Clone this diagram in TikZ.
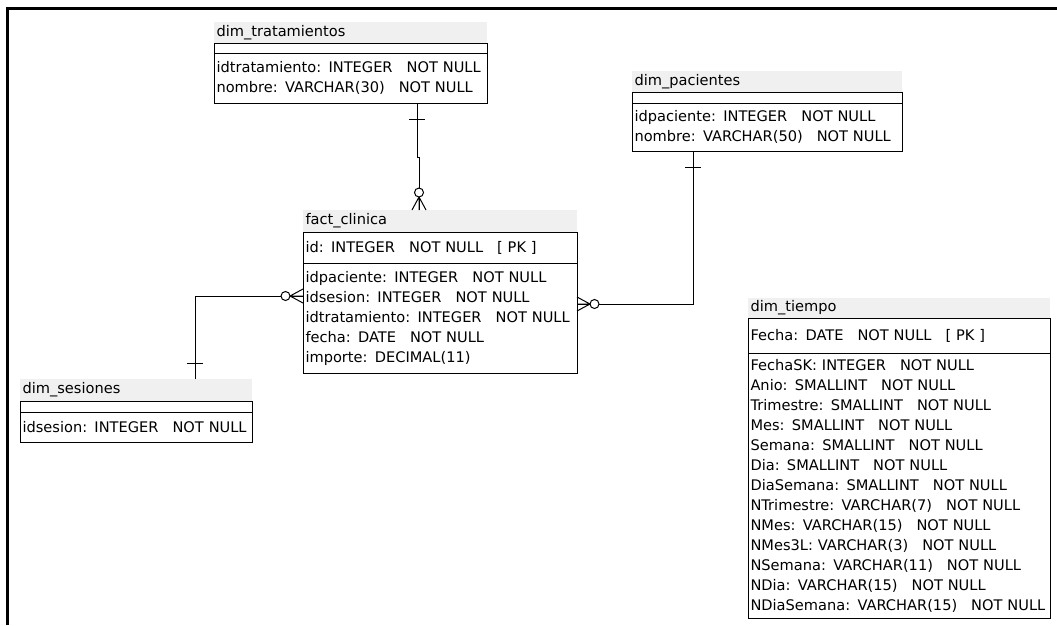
\documentclass[tikz,border=0pt]{standalone}
\usepackage{fontspec}
\setmainfont{DejaVu Sans}
\usetikzlibrary{positioning}
\newcommand\tblfont{\fontsize{14.6pt}{20pt}\selectfont}
\newcommand\gap{\hspace{14pt}}
\newcommand\fld[2]{\mbox{#1: #2\gap NOT NULL}}

\begin{document}
\begin{tikzpicture}[x=1pt,y=-1pt]
\tikzset{
  tbltitle/.style={anchor=north west,fill=black!6,outer sep=0pt,inner xsep=2.5pt,inner ysep=0pt,align=left,font=\tblfont},
  tblkey/.style={draw,line width=1pt,outer sep=0pt,inner xsep=2.5pt,inner ysep=0pt,align=left,font=\tblfont},
  tblbody/.style={draw,line width=1pt,outer sep=0pt,inner xsep=2.5pt,inner ysep=0pt,align=left,font=\tblfont},
  rel/.style={line width=1pt},
  crowsfoot/.pic={
    \draw[rel] (-7,0) -- (0,-13) -- (7,0) (0,0) -- (0,-13);
    \draw[rel,fill=white] (0,-17.5) circle[radius=4.5];
  },
  onebar/.pic={\draw[rel] (-8,-16) -- (8,-16);}
}
\useasboundingbox (0,0) rectangle (1057,625);
\draw[line width=3pt] (7.5,625) -- (7.5,8.5) -- (1057,8.5);

% dimension tables
\node[tbltitle,text width=268pt,minimum height=21pt] (trat_t) at (214,22) {dim\_tratamientos};
\node[tblkey,text width=268pt,minimum height=10pt,below=0pt of trat_t] (trat_k) {};
\node[tblbody,text width=268pt,minimum height=50pt,below=0pt of trat_k] (trat) {\fld{idtratamiento}{INTEGER}\\\fld{nombre}{VARCHAR(30)}};

\node[tbltitle,text width=265pt,minimum height=21pt] (pac_t) at (632,71) {dim\_pacientes};
\node[tblkey,text width=265pt,minimum height=11pt,below=0pt of pac_t] (pac_k) {};
\node[tblbody,text width=265pt,minimum height=48pt,below=0pt of pac_k] (pac) {\fld{idpaciente}{INTEGER}\\\fld{nombre}{VARCHAR(50)}};

\node[tbltitle,text width=227pt,minimum height=22pt] (ses_t) at (20,379) {dim\_sesiones};
\node[tblkey,text width=227pt,minimum height=11pt,below=0pt of ses_t] (ses_k) {};
\node[tblbody,text width=227pt,minimum height=30pt,below=0pt of ses_k] (ses) {\fld{idsesion}{INTEGER}};

\node[tbltitle,text width=297pt,minimum height=20pt] (tie_t) at (748,298) {dim\_tiempo};
\node[tblkey,text width=297pt,minimum height=35pt,below=0pt of tie_t] (tie_k) {Fecha: DATE\gap NOT NULL\gap[ PK ]};
\node[tblbody,text width=297pt,minimum height=265pt,below=0pt of tie_k] (tie) {\fld{FechaSK}{INTEGER}\\\fld{Anio}{SMALLINT}\\\fld{Trimestre}{SMALLINT}\\\fld{Mes}{SMALLINT}\\\fld{Semana}{SMALLINT}\\\fld{Dia}{SMALLINT}\\\fld{DiaSemana}{SMALLINT}\\\fld{NTrimestre}{VARCHAR(7)}\\\fld{NMes}{VARCHAR(15)}\\\fld{NMes3L}{VARCHAR(3)}\\\fld{NSemana}{VARCHAR(11)}\\\fld{NDia}{VARCHAR(15)}\\\fld{NDiaSemana}{VARCHAR(15)}};

% fact table
\node[tbltitle,text width=269pt,minimum height=22pt] (fact_t) at (303,210) {fact\_clinica};
\node[tblkey,text width=269pt,minimum height=31pt,below=0pt of fact_t] (fact_k) {id: INTEGER\gap NOT NULL\gap[ PK ]};
\node[tblbody,text width=269pt,minimum height=110pt,below=0pt of fact_k] (fact) {\fld{idpaciente}{INTEGER}\\\fld{idsesion}{INTEGER}\\\fld{idtratamiento}{INTEGER}\\\fld{fecha}{DATE}\\\mbox{importe: DECIMAL(11)}};

% relations
\draw[rel] ([xshift=203pt]trat.south west) -- ++(0,54) -- ++(2,0) -- ([xshift=116pt]fact_t.north west);
\pic[rotate=180] at ([xshift=203pt]trat.south west) {onebar};
\pic at ([xshift=116pt]fact_t.north west) {crowsfoot};

\draw[rel] ([xshift=175pt]ses_t.north west) |- ([yshift=-33pt]fact.north west);
\pic at ([xshift=175pt]ses_t.north west) {onebar};
\pic[rotate=90] at ([yshift=-33pt]fact.north west) {crowsfoot};

\draw[rel] ([xshift=61pt]pac.south west) |- ([yshift=-41pt]fact.north east);
\pic[rotate=180] at ([xshift=61pt]pac.south west) {onebar};
\pic[rotate=-90] at ([yshift=-41pt]fact.north east) {crowsfoot};
\end{tikzpicture}
\end{document}
